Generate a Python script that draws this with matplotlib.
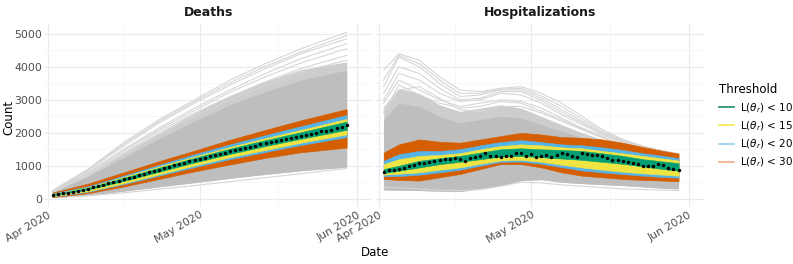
import numpy as np
import pandas as pd
import matplotlib
matplotlib.use('Agg')
import matplotlib.pyplot as plt
import matplotlib.dates as mdates
from matplotlib.lines import Line2D

# ─── Observed series (daily, Apr 2 - May 30 2020) ─────────────────────────────
obs_start = '2020-04-02'
deaths_obs = [110, 135, 160, 185, 215, 245, 275, 305, 345, 385,
              425, 465, 505, 545, 590, 630, 675, 715, 760, 800,
              845, 885, 930, 970, 1010, 1050, 1090, 1130, 1170, 1210,
              1250, 1290, 1325, 1365, 1400, 1440, 1475, 1510, 1545, 1580,
              1615, 1650, 1685, 1720, 1750, 1785, 1815, 1850, 1880, 1915,
              1945, 1975, 2005, 2040, 2070, 2100, 2135, 2180, 2230]
hosp_obs = [798, 868, 878, 917, 947, 997, 1027, 1097, 1097, 1117,
            1147, 1167, 1197, 1216, 1226, 1197, 1147, 1226, 1276, 1296,
            1376, 1296, 1296, 1266, 1296, 1296, 1396, 1376, 1296, 1346,
            1266, 1296, 1316, 1266, 1326, 1396, 1366, 1296, 1266, 1396,
            1346, 1316, 1316, 1296, 1226, 1167, 1167, 1147, 1127, 1097,
            1067, 997, 997, 997, 1047, 1027, 927, 897, 868]

# ─── Simulation envelopes (values at knot days after Apr 1) ───────────────────
death_days = [1, 8, 15, 22, 29, 36, 43, 50, 59]
death_gray_lo = [40, 110, 230, 360, 490, 620, 740, 850, 960]
death_gray_mid = [230, 760, 1400, 2020, 2600, 3120, 3560, 3920, 4150]
death_gray_hi = [210, 680, 1250, 1820, 2350, 2850, 3250, 3600, 3900]
death_sparse = [
    [250, 900, 1700, 2400, 3000, 3600, 4100, 4550, 5050],
    [240, 880, 1650, 2350, 2950, 3520, 4020, 4450, 4950],
    [230, 850, 1600, 2300, 2900, 3450, 3950, 4400, 4850],
    [220, 800, 1500, 2150, 2750, 3300, 3800, 4250, 4700],
    [215, 780, 1460, 2100, 2680, 3230, 3700, 4120, 4550],
    [200, 750, 1400, 2050, 2600, 3100, 3550, 3950, 4350],
    [190, 700, 1350, 1950, 2500, 3000, 3450, 3850, 4200],
    [30, 90, 180, 290, 400, 520, 640, 760, 920],
]
death_bands = {  # threshold: (lower, upper)
    '30': ([50, 170, 370, 600, 830, 1040, 1240, 1410, 1550],
           [190, 460, 800, 1140, 1460, 1790, 2090, 2380, 2720]),
    '20': ([70, 210, 440, 700, 960, 1200, 1420, 1630, 1870],
           [160, 380, 700, 1030, 1350, 1650, 1930, 2200, 2540]),
    '15': ([80, 230, 470, 740, 1010, 1260, 1480, 1700, 1950],
           [140, 350, 660, 980, 1280, 1570, 1840, 2090, 2420]),
    '10': ([100, 280, 540, 820, 1100, 1360, 1600, 1820, 2090],
           [130, 330, 630, 940, 1240, 1520, 1780, 2020, 2340]),
}

hosp_days = [1, 4, 8, 12, 16, 20, 24, 28, 32, 36, 40, 44, 48, 52, 56, 59]
hosp_gray_lo = [270, 260, 250, 230, 220, 300, 400, 550, 580, 500, 460, 430, 400, 360, 320, 300]
hosp_gray_mid = [2800, 3350, 3200, 2850, 2650, 2750, 2850, 2750, 2500, 2250, 2000, 1800, 1620, 1470, 1360, 1310]
hosp_gray_hi = [2400, 2900, 2800, 2500, 2300, 2400, 2500, 2450, 2250, 2050, 1850, 1700, 1560, 1420, 1330, 1280]
hosp_sparse = [
    [3900, 4400, 4200, 3700, 3300, 3250, 3350, 3400, 3200, 2900, 2500, 2100, 1800, 1600, 1450, 1370],
    [3600, 4350, 4100, 3600, 3200, 3200, 3320, 3350, 3120, 2800, 2420, 2050, 1780, 1580, 1440, 1360],
    [3400, 4300, 4000, 3500, 3100, 3150, 3300, 3300, 3050, 2700, 2350, 2000, 1750, 1550, 1420, 1340],
    [3200, 4000, 3800, 3350, 3000, 3050, 3250, 3250, 2980, 2620, 2300, 1980, 1720, 1520, 1400, 1330],
    [3000, 3800, 3600, 3200, 2950, 3000, 3200, 3150, 2900, 2550, 2250, 1950, 1700, 1500, 1380, 1320],
    [2900, 3600, 3300, 3000, 2800, 2900, 3000, 2950, 2750, 2450, 2150, 1900, 1650, 1480, 1360, 1300],
    [2700, 3300, 3400, 3050, 2700, 2650, 2800, 2800, 2600, 2350, 2100, 1850, 1620, 1450, 1350, 1300],
    [2600, 3450, 3150, 2900, 2750, 2800, 2950, 2900, 2650, 2400, 2120, 1880, 1640, 1460, 1350, 1300],
    [350, 330, 300, 260, 250, 280, 380, 500, 480, 420, 380, 340, 300, 280, 260, 250],
]
hosp_bands = {
    '30': ([600, 570, 550, 650, 750, 900, 1050, 1050, 950, 800, 700, 650, 600, 570, 550, 530],
           [1400, 1650, 1800, 1730, 1700, 1800, 1900, 2000, 1950, 1870, 1850, 1800, 1700, 1570, 1450, 1370]),
    '20': ([680, 690, 730, 800, 880, 1000, 1120, 1130, 1060, 960, 860, 800, 750, 700, 660, 640],
           [1150, 1350, 1450, 1450, 1500, 1620, 1720, 1780, 1720, 1650, 1620, 1560, 1480, 1380, 1300, 1230]),
    '15': ([730, 760, 800, 880, 950, 1060, 1160, 1180, 1120, 1030, 950, 880, 820, 770, 730, 700],
           [1050, 1200, 1300, 1330, 1380, 1500, 1600, 1650, 1620, 1560, 1530, 1450, 1380, 1300, 1220, 1160]),
    '10': ([780, 850, 950, 1050, 1120, 1200, 1280, 1300, 1260, 1220, 1180, 1120, 1060, 980, 900, 850],
           [900, 1000, 1150, 1230, 1300, 1400, 1500, 1530, 1500, 1480, 1450, 1380, 1300, 1200, 1130, 1080]),
}

thresholds = ['10', '15', '20', '30']
band_colors = {'10': '#009E73', '15': '#F0E442', '20': '#56B4E9', '30': '#D55E00'}
legend_colors = ['#1b8a6b', '#f2e84c', '#8fcdf0', '#eeae86']

GRAY_DENSE = '#BEBEBE'
GRAY_MID = '#CDCDCD'
GRAY_LINE = '#D6D6D6'
TEXT_GRAY = '#4D4D4D'

base = pd.Timestamp('2020-04-01')
obs_dates = pd.date_range(obs_start, periods=len(deaths_obs), freq='D')


def to_dates(days):
    return [base + pd.Timedelta(days=d) for d in days]


def draw_panel(ax, days, gray_lo, gray_mid, gray_hi, sparse, bands, obs, title):
    x = to_dates(days)
    ax.fill_between(x, gray_lo, gray_mid, color=GRAY_MID, lw=0, zorder=1)
    ax.fill_between(x, gray_lo, gray_hi, color=GRAY_DENSE, lw=0, zorder=1)
    for line in sparse:
        ax.plot(x, line, color=GRAY_LINE, lw=0.8, zorder=1)
    for key in ['30', '20', '15', '10']:
        lo, hi = bands[key]
        ax.fill_between(x, lo, hi, color=band_colors[key], lw=0.4,
                        edgecolor=band_colors[key], zorder=2)
    ax.scatter(obs_dates, obs, s=6, color='black', zorder=4, linewidths=0)

    ax.set_title(title, fontsize=9, fontweight='bold', color='#1a1a1a', pad=6)
    ax.set_xlim(base - pd.Timedelta(days=0.5), pd.Timestamp('2020-06-04'))
    ax.set_ylim(-250, 5300)
    ax.set_yticks(range(0, 5001, 1000))
    ax.set_yticks(range(500, 5001, 1000), minor=True)
    ax.set_xticks([pd.Timestamp('2020-04-01'), pd.Timestamp('2020-05-01'), pd.Timestamp('2020-06-01')])
    ax.set_xticks([pd.Timestamp('2020-04-16'), pd.Timestamp('2020-05-16 12:00')], minor=True)
    ax.xaxis.set_major_formatter(mdates.DateFormatter('%b %Y'))
    ax.grid(which='major', color='#EBEBEB', lw=0.8, zorder=0)
    ax.grid(which='minor', color='#F4F4F4', lw=0.5, zorder=0)
    ax.set_axisbelow(True)
    for s in ax.spines.values():
        s.set_visible(False)
    ax.tick_params(which='both', length=0, labelsize=7.8, labelcolor=TEXT_GRAY, pad=2)
    for lab in ax.get_xticklabels():
        lab.set_rotation(30)
        lab.set_ha('right')
        lab.set_rotation_mode('anchor')


fig = plt.figure(figsize=(7.93, 2.64), dpi=100)
ax1 = fig.add_axes([45 / 793, 57 / 264, 327 / 793, 183 / 264])
ax2 = fig.add_axes([376 / 793, 57 / 264, 328 / 793, 183 / 264])

draw_panel(ax1, death_days, death_gray_lo, death_gray_mid, death_gray_hi,
           death_sparse, death_bands, deaths_obs, 'Deaths')
draw_panel(ax2, hosp_days, hosp_gray_lo, hosp_gray_mid, hosp_gray_hi,
           hosp_sparse, hosp_bands, hosp_obs, 'Hospitalizations')
ax2.set_yticklabels([])

fig.text(9 / 793, 1 - 117 / 264, 'Count', rotation=90, ha='center', va='center', fontsize=8.5)
fig.text(375 / 793, 1 - 252 / 264, 'Date', ha='center', va='center', fontsize=8.5)

handles = [Line2D([0], [0], color=c, lw=1.2) for c in legend_colors]
labels = [r'$\mathrm{L}\left(\theta_r\right)$ < ' + t for t in thresholds]
leg = fig.legend(handles, labels, title='Threshold', loc='upper left',
                 bbox_to_anchor=(712 / 793, 1 - 76 / 264), frameon=False,
                 fontsize=7.5, title_fontsize=8.5, handlelength=1.4,
                 handletextpad=0.6, labelspacing=0.45, borderpad=0.2)
leg._legend_box.align = 'left'

fig.savefig('out.png', dpi=100)
